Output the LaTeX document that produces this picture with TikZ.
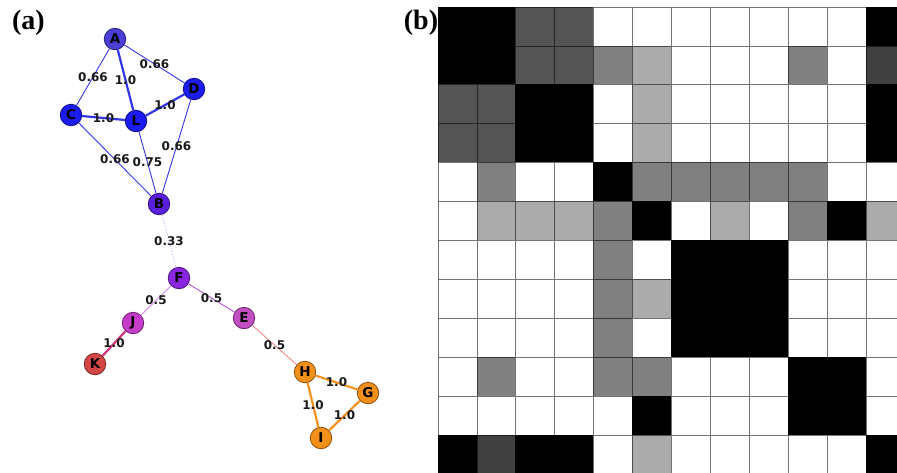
\documentclass[tikz,border=0pt]{standalone}
\usepackage{fontspec}
\setmainfont{Liberation Serif}
\newfontfamily\djv{DejaVu Sans}
\usepackage{xcolor}

% node colours
\definecolor{nA}{HTML}{4B3FD6}
\definecolor{nBlue}{HTML}{1C1CEE}
\definecolor{nB}{HTML}{5B1FE0}
\definecolor{nF}{HTML}{8B26E0}
\definecolor{nE}{HTML}{C24FC2}
\definecolor{nJ}{HTML}{C43CC8}
\definecolor{nK}{HTML}{D44646}
\definecolor{nOr}{HTML}{F39019}
% edge colours
\definecolor{eBlue}{HTML}{3434E8}
\definecolor{eDot}{HTML}{B9A2F2}
\definecolor{eFJ}{HTML}{D38AF0}
\definecolor{eFE}{HTML}{B45AD6}
\definecolor{eJK}{HTML}{D2357E}
\definecolor{eEH}{HTML}{F28A8A}
\definecolor{eOr}{HTML}{F5921E}

\begin{document}
\begin{tikzpicture}[x=1pt, y=-1pt,
    vert/.style={circle, draw=#1!55!black, fill=#1, line width=0.8pt,
                 minimum size=21.5pt, inner sep=0pt,
                 font=\djv\bfseries\fontsize{13.5}{13.5}\selectfont},
    lbl/.style={midway, inner sep=0pt, text=black!90,
                font=\djv\bfseries\fontsize{12}{12}\selectfont},
    wide/.style={line width=2.2pt},
    slim/.style={line width=0.9pt},
    dots/.style={line width=0.9pt, dotted},
    cell/.style={line width=0.8pt},
    tag/.style={anchor=base, font=\bfseries\fontsize{28}{30}\selectfont}
  ]
  \path[use as bounding box] (0,0) rectangle (897,472);

  \node[tag] (taga) at (28.5,29.5) {(a)};
  \node[tag] (tagb) at (421,29.5) {(b)};

  % (a) graph
  \node[vert=nA]   (A) at (115,39)  {A};
  \node[vert=nBlue] (D) at (194,89)  {D};
  \node[vert=nBlue] (C) at (71,115)  {C};
  \node[vert=nBlue] (L) at (136,121) {L};
  \node[vert=nB]   (B) at (159,204) {B};
  \node[vert=nF]   (F) at (179,278) {F};
  \node[vert=nE]   (E) at (244,318) {E};
  \node[vert=nJ]   (J) at (133,323) {J};
  \node[vert=nK]   (K) at (95,364)  {K};
  \node[vert=nOr]  (H) at (305,372) {H};
  \node[vert=nOr]  (G) at (368,393) {G};
  \node[vert=nOr]  (I) at (321,438) {I};

  \draw[slim, eBlue] (A) -- node[lbl] {0.66} (C);
  \draw[wide, eBlue] (A) -- node[lbl] {1.0} (L);
  \draw[slim, eBlue] (A) -- node[lbl] {0.66} (D);
  \draw[wide, eBlue] (C) -- node[lbl] {1.0} (L);
  \draw[wide, eBlue] (L) -- node[lbl] {1.0} (D);
  \draw[slim, eBlue] (C) -- node[lbl] {0.66} (B);
  \draw[slim, eBlue] (L) -- node[lbl] {0.75} (B);
  \draw[slim, eBlue] (D) -- node[lbl] {0.66} (B);
  \draw[dots, eDot]  (B) -- node[lbl] {0.33} (F);
  \draw[slim, eFJ]   (F) -- node[lbl] {0.5} (J);
  \draw[slim, eFE]   (F) -- node[lbl] {0.5} (E);
  \draw[wide, eJK]   (J) -- node[lbl] {1.0} (K);
  \draw[slim, eEH]   (E) -- node[lbl] {0.5} (H);
  \draw[wide, eOr]   (H) -- node[lbl] {1.0} (G);
  \draw[wide, eOr]   (H) -- node[lbl] {1.0} (I);
  \draw[wide, eOr]   (G) -- node[lbl] {1.0} (I);

  % (b) matrix, 0 white .. 5 black
  \begin{scope}
    \clip (438,0) rectangle (897,472);
    \foreach \cells [count=\r] in {
        {5,5,3,3,0,0,0,0,0,0,0,5},
        {5,5,3,3,2,1,0,0,0,2,0,4},
        {3,3,5,5,0,1,0,0,0,0,0,5},
        {3,3,5,5,0,1,0,0,0,0,0,5},
        {0,2,0,0,5,2,2,2,2,2,0,0},
        {0,1,1,1,2,5,0,1,0,2,5,1},
        {0,0,0,0,2,0,5,5,5,0,0,0},
        {0,0,0,0,2,1,5,5,5,0,0,0},
        {0,0,0,0,2,0,5,5,5,0,0,0},
        {0,2,0,0,2,2,0,0,0,5,5,0},
        {0,0,0,0,0,5,0,0,0,5,5,0},
        {5,4,5,5,0,1,0,0,0,0,0,5}} {
      \foreach \v [count=\c] in \cells {
        \pgfmathsetmacro\shd{{0,33,50,67,75,100}[\v]}
        \pgfmathsetmacro\lnc{100-(100-\shd)*0.45}
        \draw[cell, draw=black!\lnc, fill=black!\shd]
          ({438+(\c-1)*38.9},{7+(\r-1)*38.9}) rectangle ++(38.9,38.9);
      }
    }
  \end{scope}
\end{tikzpicture}
\end{document}
